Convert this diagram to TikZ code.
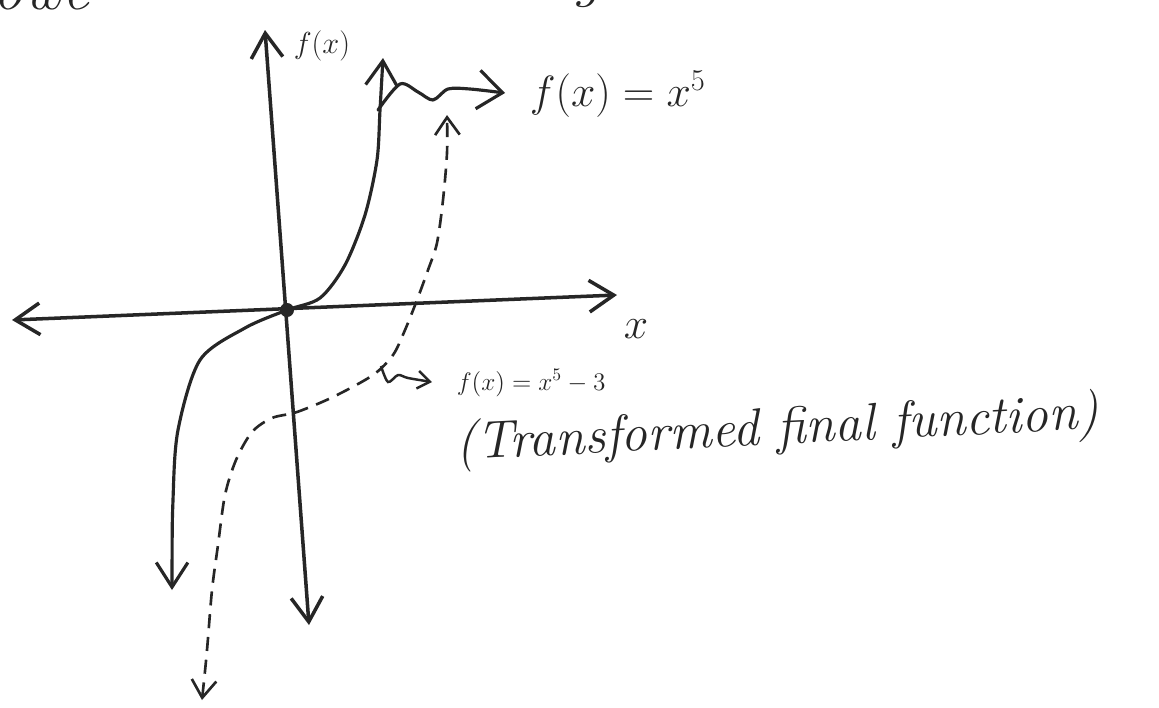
\documentclass[tikz,border=0pt]{standalone}
\usetikzlibrary{arrows.meta}
\newcommand{\fs}[1]{\fontsize{#1}{#1}\selectfont}

\begin{document}
\begin{tikzpicture}[x=0.02cm, y=-0.02cm, line width=2pt, black!85,
  >={Straight Barb[length=14pt,width=18pt]},
  curve/.style={line width=1.8pt, line join=round, line cap=round},
  dashcurve/.style={line width=1.5pt, dash pattern=on 8pt off 5pt,
    >={Straight Barb[length=10pt,width=14pt]}},
  hand/.style={inner sep=0pt, text=black!85}]
  \useasboundingbox[fill=white] (0,0) rectangle (1159,707);

  \node[hand, anchor=base west, font=\fs{34}\itshape] (frago) at (-8,9) {owe};
  \node[hand, anchor=base west, font=\fs{34}\itshape] (fragg) at (572,-5) {g};

  \coordinate (O) at (287,310);
  \coordinate (ytop) at (265,30);
  \coordinate (ybot) at (309,625);
  \coordinate (xleft) at (12,320);
  \coordinate (xright) at (617,295);
  \draw[<->] (ybot) -- (ytop);
  \draw[<->] (xleft) -- (xright);
  \fill (O) circle (4pt);
  \node[hand, anchor=west, font=\fs{16}] (flab) at (292,46) {$f(x)$};
  \node[hand, anchor=base west, font=\fs{28}] (xlab) at (622,338) {$x$};

  \draw[curve, <->] plot[smooth] coordinates {(172,590) (173,500) (178,430)
    (200,360) (245,328) (287,310) (320,298) (345,265) (365,215) (377,160)
    (380,110) (383,58)};
  \draw[dashcurve, <->] plot[smooth] coordinates {(202,700) (207,650)
    (212,590) (218,545) (225,495) (236,460) (252,432) (272,418) (297,412)
    (333,397) (373,375) (393,355) (405,330) (417,300) (428,270) (437,243)
    (443,200) (447,153) (447,115)};

  \node[hand, anchor=base west, font=\fs{23}] (lab5) at (528,106) {$f(x) = x^5$};
  \draw[curve, ->, >={Straight Barb[length=14pt,width=22pt]}]
    plot[smooth] coordinates {(378,110) (400,84) (418,92) (433,100)
    (448,89) (470,89) (505,93)};

  \node[hand, anchor=base west, font=\fs{14}] (lab53) at (455,390) {$f(x)=x^5-3$};
  \draw[line width=1.4pt, ->, >={Straight Barb[length=7pt,width=10pt]}]
    plot[smooth] coordinates {(381,366) (388,382) (398,375) (408,378) (432,382)};

  \node[hand, anchor=base west, rotate=2.8, font=\fs{30}\itshape] (note)
    at (455,460) {(Transformed final function)};
\end{tikzpicture}
\end{document}
